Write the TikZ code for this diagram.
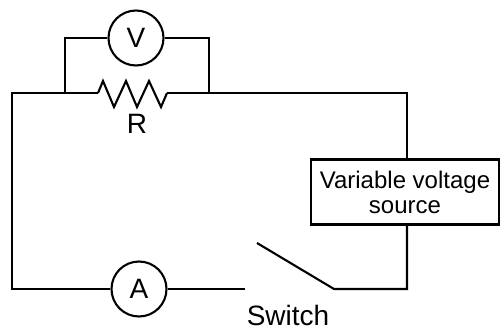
\documentclass[tikz,border=0pt]{standalone}
\usepackage{fontspec}
\setmainfont{Liberation Sans}
\begin{document}
\begin{tikzpicture}[x=1pt,y=-1pt,
  wire/.style={line width=2.1pt,line join=miter},
  meter/.style={circle,draw,line width=2.1pt,minimum size=55pt,inner sep=0pt,font=\fontsize{28}{30}\selectfont},
  srcbox/.style={draw,line width=2.1pt,minimum width=188pt,minimum height=65pt,inner sep=0pt,align=center,font=\fontsize{24}{25}\selectfont},
  lbl/.style={font=\fontsize{28}{30}\selectfont,anchor=base,inner sep=0pt}]
\useasboundingbox (0,0) rectangle (502,331);
% coordinates
\coordinate (tl) at (12,93);
\coordinate (bl) at (12,289);
\coordinate (vl) at (65,93);
\coordinate (vlt) at (65,38);
\coordinate (vr) at (209,93);
\coordinate (vrt) at (209,38);
\coordinate (rs) at (98,93);
\coordinate (re) at (167,93);
\coordinate (tr) at (407,93);
\coordinate (br) at (407,289);
\coordinate (pivot) at (334,289);
\coordinate (blade) at (257,243);
\coordinate (contact) at (245,289);
% nodes
\node[meter] (V) at (136,38) {V};
\node[meter] (A) at (139,289) {A};
\node[srcbox] (src) at (405,192) {Variable voltage\\source};
\node[lbl] (R) at (137,133) {R};
\node[lbl] (sw) at (288,325) {Switch};
% wires
\draw[wire] (src.north -| tr) -- (tr) -- (re);
\draw[wire] (rs) -- (tl) -- (bl) -- (A.west);
\draw[wire] (A.east) -- (contact);
\draw[wire] (src.south -| br) -- (br) -- (pivot) -- (blade);
\draw[wire] (vl) -- (vlt) -- (V.west);
\draw[wire] (V.east) -- (vrt) -- (vr);
% resistor zigzag
\draw[wire] (rs) -- ++(5,-12) -- ++(11,26) -- ++(12,-26) -- ++(11,26) -- ++(12,-26) -- ++(12,26) -- (re);
\end{tikzpicture}
\end{document}
